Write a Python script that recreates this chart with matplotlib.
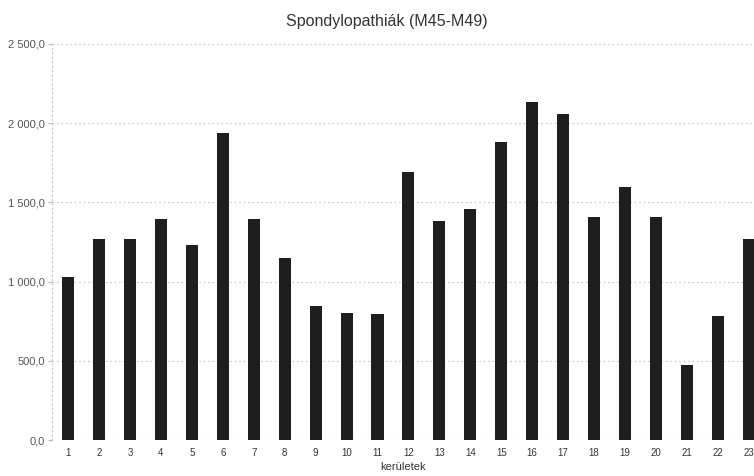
import matplotlib
matplotlib.use("Agg")
import matplotlib.pyplot as plt
import numpy as np

plt.rcParams['font.family'] = ['Liberation Sans', 'DejaVu Sans']

# district numbers and rates per district
districts = [str(i) for i in range(1, 24)]
values = [1030, 1270, 1270, 1395, 1230, 1940, 1395, 1150, 845, 800,
          795, 1690, 1385, 1460, 1880, 2135, 2060, 1410, 1600, 1410,
          475, 785, 1270]
yticks = [0, 500, 1000, 1500, 2000, 2500]
ytick_labels = ['0,0', '500,0', '1 000,0', '1 500,0', '2 000,0', '2 500,0']

fig = plt.figure(figsize=(7.54, 4.76), dpi=100)
ax = fig.add_axes([0.069, 0.0756, 0.931, 0.832])

x = np.arange(1, len(values) + 1)
ax.bar(x, values, width=0.39, color='#1e1e1e', zorder=3)

ax.set_xlim(0.48, 23.17)
ax.set_ylim(0, 2500)
ax.set_yticks(yticks)
ax.set_yticklabels(ytick_labels, fontsize=8, color='#555555')
ax.set_xticks(x)
ax.set_xticklabels(districts, fontsize=7, color='#333333')
ax.tick_params(axis='x', length=0, pad=6)
ax.tick_params(axis='y', length=3, color='#bbbbbb', pad=2)

ax.grid(axis='y', linestyle=(0, (1.5, 2.5)), color='#c4c4c4', linewidth=0.8, zorder=0)
for side in ['top', 'right', 'bottom']:
    ax.spines[side].set_visible(False)
ax.spines['left'].set_linestyle((0, (1, 3)))
ax.spines['left'].set_color('#c4c4c4')

ax.set_title('Spondylopathiák (M45-M49)', fontsize=11.5, color='#333333', pad=13, x=0.477)
ax.set_xlabel('kerületek', fontsize=8, color='#333333')
ax.xaxis.set_label_coords(0.5, -0.055)

fig.savefig('out.png', dpi=100)
